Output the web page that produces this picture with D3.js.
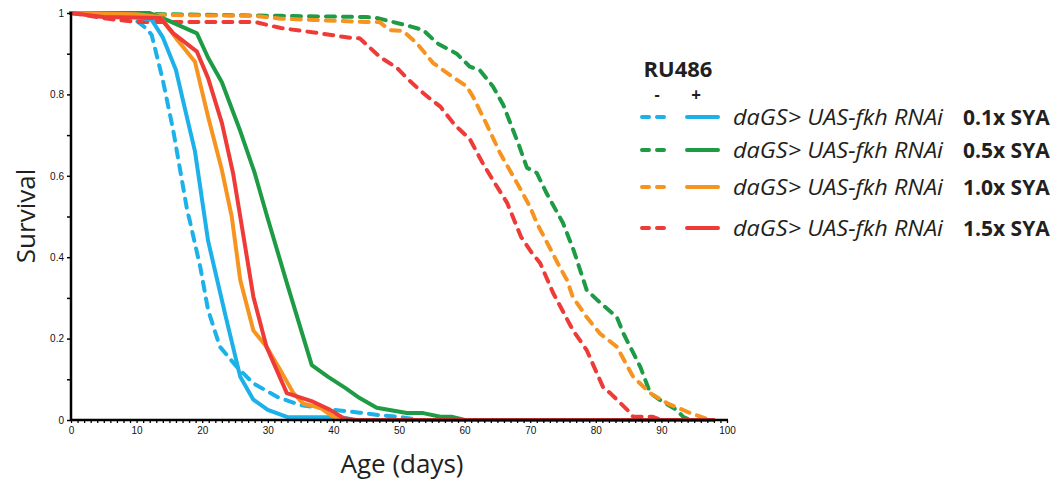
<!DOCTYPE html>
<html>
<head>
<meta charset="utf-8">
<script src="https://cdn.jsdelivr.net/npm/d3@7"></script>
<style>
  body { margin: 0; background: #fff; }
  svg { display: block; }
</style>
</head>
<body>
<div id="chart"></div>
<script>
// survival curves, [day, fraction alive]
// "minus" = no RU486 (dashed), "plus" = RU486 (solid)
var blueMinus = [[0,1],[5,0.997],[9.5,0.988],[11.6,0.96],[12.3,0.946],[14,0.835],[15.6,0.71],[17.7,0.516],[18.1,0.49],[19.7,0.376],[20.9,0.27],[22.7,0.18],[25.3,0.13],[27.8,0.09],[31.4,0.057],[34.9,0.037],[40,0.025],[44,0.018],[47,0.012],[50,0.008],[53,0]];
var bluePlus = [[0,1],[5,0.995],[10,0.99],[12.3,0.983],[14,0.94],[16,0.86],[17,0.79],[18.9,0.66],[20.9,0.44],[23.5,0.26],[25.8,0.106],[27.8,0.05],[30,0.025],[33,0.007],[41,0.007],[43.5,0]];
var greenMinus = [[0,1],[10,1],[14,0.997],[32,0.993],[45,0.99],[46.6,0.988],[52,0.966],[53.7,0.958],[55.8,0.926],[58.8,0.9],[60.8,0.868],[62.3,0.86],[64.3,0.82],[65.9,0.774],[68.4,0.67],[69.5,0.62],[71,0.607],[72.5,0.557],[75,0.484],[76.6,0.418],[78.6,0.32],[80.2,0.295],[83.2,0.253],[84.2,0.213],[86.8,0.13],[88.3,0.066],[89.8,0.049],[92.3,0.025],[93.3,0.008],[94.4,0]];
var greenPlus = [[0,1],[12,1],[14.6,0.983],[19.2,0.95],[20.9,0.89],[23,0.83],[25.8,0.71],[28,0.607],[29.9,0.5],[32.9,0.337],[36.7,0.135],[39.2,0.106],[41.8,0.079],[44,0.054],[46.6,0.03],[51.2,0.017],[53.7,0.017],[56.3,0.008],[58,0.008],[60,0]];
var orangeMinus = [[0,1],[10,0.997],[14,0.995],[28,0.993],[31.9,0.986],[37,0.983],[45,0.978],[47,0.978],[48.6,0.958],[50.6,0.956],[52.7,0.926],[55.2,0.877],[58.2,0.843],[60.3,0.82],[61.3,0.794],[63.4,0.725],[65.4,0.656],[68,0.582],[70,0.523],[71,0.484],[72.6,0.435],[74.5,0.376],[75.6,0.344],[76.5,0.302],[78.6,0.253],[80.6,0.213],[83.2,0.18],[85.7,0.106],[88.3,0.066],[90.9,0.041],[94.4,0.017],[97.4,0]];
var orangePlus = [[0,1],[10,0.997],[13.6,0.99],[16.2,0.934],[18.9,0.88],[20.9,0.745],[23,0.614],[24.5,0.5],[25.8,0.344],[27.8,0.22],[29.8,0.18],[31.9,0.123],[33.9,0.066],[35.4,0.04],[38,0.03],[40,0.008],[41.5,0]];
var redMinus = [[0,1],[6,0.985],[10,0.978],[28,0.978],[32,0.963],[38,0.95],[43,0.938],[44,0.938],[47.1,0.892],[49.7,0.865],[51.2,0.84],[53.2,0.81],[54.7,0.79],[56.3,0.77],[58.5,0.725],[60.8,0.69],[62.8,0.63],[64.3,0.59],[66.5,0.533],[68.6,0.45],[70.2,0.412],[71.5,0.386],[73.5,0.312],[76.5,0.221],[78.6,0.172],[81.1,0.081],[82.2,0.066],[84.8,0.025],[85.7,0.008],[88.7,0.008],[90,0]];
var redPlus = [[0,1],[4.9,0.99],[13.6,0.988],[15.6,0.95],[19.2,0.905],[20.9,0.84],[23,0.73],[24.7,0.607],[25.8,0.5],[27.8,0.303],[29.8,0.18],[32.9,0.066],[36.9,0.045],[39.5,0.025],[41.5,0.005],[43,0],[98,0]];

var seriesNames = ["blueMinus","bluePlus","greenMinus","greenPlus","orangeMinus","orangePlus","redMinus","redPlus"];
var seriesData = [blueMinus, bluePlus, greenMinus, greenPlus, orangeMinus, orangePlus, redMinus, redPlus];
var seriesColors = ["#1cb1e8","#1cb1e8","#1e9b45","#1e9b45","#f6941f","#f6941f","#ee3b37","#ee3b37"];
var seriesDashed = [true,false,true,false,true,false,true,false];

var legendLabels = ["daGS> UAS-fkh RNAi","daGS> UAS-fkh RNAi","daGS> UAS-fkh RNAi","daGS> UAS-fkh RNAi"];
var legendDiets = ["0.1x SYA","0.5x SYA","1.0x SYA","1.5x SYA"];
var legendColors = ["#1cb1e8","#1e9b45","#f6941f","#ee3b37"];

var xTicks = d3.range(0, 101, 1);
var yTicks = d3.range(0, 11).map(function(d) { return d / 10; });

var width = 1061, height = 482;

var svg = d3.select("#chart").append("svg")
    .attr("width", width)
    .attr("height", height);

var x = d3.scaleLinear().domain([0, 100]).range([71, 727]);
var y = d3.scaleLinear().domain([0, 1]).range([420, 13]);

var line = d3.line()
    .x(function(d) { return x(d[0]); })
    .y(function(d) { return y(d[1]); });

// curves, dashed ones first so the solid ones sit on top
var order = [0, 2, 4, 6, 1, 3, 5, 7];
order.forEach(function(i) {
    svg.append("path")
        .datum(seriesData[i])
        .attr("class", seriesNames[i])
        .attr("fill", "none")
        .attr("stroke", seriesColors[i])
        .attr("stroke-width", 4)
        .attr("stroke-linejoin", "round")
        .attr("stroke-linecap", "round")
        .attr("stroke-dasharray", seriesDashed[i] ? "9,8" : null)
        .attr("d", line);
});

// axes
var xAxis = d3.axisBottom(x)
    .tickValues(xTicks)
    .tickSize(3)
    .tickFormat(function(d) { return d % 10 === 0 ? d : ""; });

var gx = svg.append("g")
    .attr("transform", "translate(0,420)")
    .call(xAxis);
gx.select(".domain").attr("stroke-width", 2.5).attr("d", "M71,0H728");
gx.selectAll(".tick line").attr("stroke-width", 1.3);
gx.selectAll(".tick text")
    .attr("y", 7)
    .style("font-family", "'Liberation Sans', Arial, sans-serif")
    .style("font-size", "10px")
    .attr("fill", "#111");

var yAxis = d3.axisLeft(y)
    .tickValues(yTicks)
    .tickSize(4)
    .tickFormat(function(d, i) { return i % 2 === 0 ? d3.format("~g")(d) : ""; });

var gy = svg.append("g")
    .attr("transform", "translate(71,0)")
    .call(yAxis);
gy.select(".domain").attr("stroke-width", 2.5).attr("d", "M0,420V12");
gy.selectAll(".tick line").attr("stroke-width", 1.5);
gy.selectAll(".tick text")
    .attr("x", -7)
    .style("font-family", "'Liberation Sans', Arial, sans-serif")
    .style("font-size", "10px")
    .attr("fill", "#111");

// axis titles
svg.append("text")
    .attr("transform", "translate(35,216) rotate(-90)")
    .attr("text-anchor", "middle")
    .style("font-family", "'Open Sans', sans-serif")
    .style("font-size", "26px")
    .attr("fill", "#231f20")
    .text("Survival");

svg.append("text")
    .attr("x", 402)
    .attr("y", 473)
    .attr("text-anchor", "middle")
    .style("font-family", "'Open Sans', sans-serif")
    .style("font-size", "26px")
    .attr("fill", "#231f20")
    .text("Age (days)");

// legend
var lg = svg.append("g").attr("class", "legend");
lg.append("text")
    .attr("x", 678).attr("y", 77)
    .attr("text-anchor", "middle")
    .style("font-family", "'Open Sans', sans-serif")
    .style("font-weight", "bold")
    .style("font-size", "22px")
    .attr("fill", "#231f20")
    .text("RU486");
lg.append("text")
    .attr("x", 657).attr("y", 100)
    .attr("text-anchor", "middle")
    .style("font-family", "'Open Sans', sans-serif")
    .style("font-weight", "bold")
    .style("font-size", "16px")
    .attr("fill", "#231f20")
    .text("-");
lg.append("text")
    .attr("x", 696).attr("y", 101)
    .attr("text-anchor", "middle")
    .style("font-family", "'Open Sans', sans-serif")
    .style("font-weight", "bold")
    .style("font-size", "17px")
    .attr("fill", "#231f20")
    .text("+");

var rowY = [117, 150, 187, 228];
legendLabels.forEach(function(label, i) {
    var row = lg.append("g").attr("transform", "translate(0," + rowY[i] + ")");
    row.append("line")
        .attr("x1", 642).attr("x2", 668)
        .attr("stroke", legendColors[i]).attr("stroke-width", 4)
        .attr("stroke-linecap", "round")
        .attr("stroke-dasharray", "7,8");
    row.append("line")
        .attr("x1", 687).attr("x2", 718)
        .attr("stroke", legendColors[i]).attr("stroke-width", 4)
        .attr("stroke-linecap", "round");
    row.append("text")
        .attr("x", 733).attr("y", 8)
        .style("font-family", "'Open Sans', sans-serif")
        .style("font-style", "italic")
        .style("font-size", "21px")
        .attr("textLength", 210)
        .attr("lengthAdjust", "spacingAndGlyphs")
        .attr("fill", "#231f20")
        .text(label);
    row.append("text")
        .attr("x", 963).attr("y", 8)
        .style("font-family", "'Open Sans', sans-serif")
        .style("font-weight", "bold")
        .style("font-size", "21px")
        .attr("fill", "#231f20")
        .text(legendDiets[i]);
});
</script>
</body>
</html>
